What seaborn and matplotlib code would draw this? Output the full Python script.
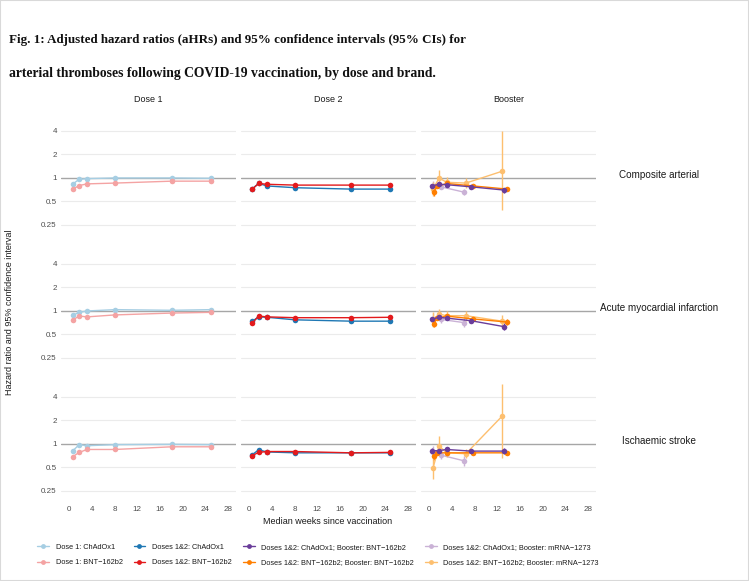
import numpy as np
import pandas as pd
import matplotlib.pyplot as plt
import seaborn as sns
from matplotlib.lines import Line2D
from matplotlib.patches import Rectangle

sns.set_theme(style="white")
plt.rcParams["font.family"] = ["Liberation Sans", "DejaVu Sans"]

outcomes = ["Composite arterial", "Acute myocardial infarction", "Ischaemic stroke"]
doses = ["Dose 1", "Dose 2", "Booster"]

series_names = [
    "Dose 1: ChAdOx1", "Dose 1: BNT\u2212162b2",
    "Doses 1&2: ChAdOx1", "Doses 1&2: BNT\u2212162b2",
    "Doses 1&2: ChAdOx1; Booster: BNT\u2212162b2", "Doses 1&2: BNT\u2212162b2; Booster: BNT\u2212162b2",
    "Doses 1&2: ChAdOx1; Booster: mRNA\u22121273", "Doses 1&2: BNT\u2212162b2; Booster: mRNA\u22121273",
]
series_dose = ["Dose 1", "Dose 1", "Dose 2", "Dose 2", "Booster", "Booster", "Booster", "Booster"]
colors = ["#a6cee3", "#f4a3a3", "#1f78b4", "#e31a1c", "#6a3d9a", "#ff7f00", "#cab2d6", "#fdbf6f"]

# median weeks since vaccination for each series
weeks = [
    [0.7, 1.8, 3.2, 8.1, 18.1, 25.0],
    [0.7, 1.8, 3.2, 8.1, 18.1, 25.0],
    [0.6, 1.7, 3.2, 8.1, 18.0, 24.9],
    [0.6, 1.7, 3.2, 8.1, 18.0, 24.9],
    [0.6, 1.7, 3.1, 7.4, 13.2],
    [0.8, 1.5, 3.1, 7.8, 13.8],
    [0.7, 2.1, 6.1],
    [0.7, 1.8, 3.1, 6.5, 12.9],
]

# hazard ratios: outcome -> series
hr_composite = [
    [0.84, 0.96, 0.98, 1.00, 1.00, 0.99],
    [0.72, 0.80, 0.84, 0.86, 0.91, 0.91],
    [0.73, 0.85, 0.79, 0.75, 0.72, 0.72],
    [0.72, 0.85, 0.83, 0.81, 0.81, 0.81],
    [0.79, 0.83, 0.82, 0.77, 0.70],
    [0.67, 0.78, 0.85, 0.79, 0.72],
    [0.80, 0.77, 0.66],
    [0.72, 1.00, 0.88, 0.86, 1.22],
]
hr_ami = [
    [0.88, 0.96, 1.00, 1.04, 1.02, 1.04],
    [0.77, 0.86, 0.84, 0.89, 0.94, 0.96],
    [0.74, 0.84, 0.83, 0.77, 0.74, 0.74],
    [0.70, 0.86, 0.84, 0.82, 0.82, 0.83],
    [0.78, 0.83, 0.81, 0.75, 0.63],
    [0.69, 0.81, 0.86, 0.79, 0.72],
    [0.80, 0.78, 0.71],
    [0.77, 0.91, 0.87, 0.87, 0.74],
]
hr_stroke = [
    [0.82, 0.98, 0.95, 0.98, 0.99, 0.98],
    [0.69, 0.78, 0.85, 0.85, 0.92, 0.92],
    [0.73, 0.84, 0.79, 0.77, 0.77, 0.77],
    [0.71, 0.78, 0.80, 0.80, 0.77, 0.78],
    [0.82, 0.82, 0.85, 0.81, 0.81],
    [0.70, 0.77, 0.77, 0.77, 0.77],
    [0.80, 0.72, 0.61],
    [0.49, 0.94, 0.77, 0.75, 2.28],
]

# 95% CIs for the booster series (dose 1/2 intervals are hidden by the points)
lo_composite = [[0.75, 0.80, 0.79, 0.74, 0.65], [0.58, 0.74, 0.81, 0.76, 0.68],
                [0.70, 0.72, 0.60], [0.58, 0.80, 0.75, 0.74, 0.39]]
hi_composite = [[0.84, 0.87, 0.85, 0.80, 0.75], [0.77, 0.83, 0.89, 0.83, 0.77],
                [0.91, 0.83, 0.73], [0.90, 1.25, 1.03, 1.00, 3.95]]
lo_ami = [[0.73, 0.79, 0.77, 0.71, 0.57], [0.62, 0.77, 0.82, 0.75, 0.67],
          [0.68, 0.71, 0.62], [0.62, 0.78, 0.76, 0.75, 0.62]]
hi_ami = [[0.84, 0.88, 0.85, 0.79, 0.70], [0.76, 0.86, 0.90, 0.83, 0.78],
          [0.94, 0.86, 0.81], [0.96, 1.07, 1.00, 1.01, 0.88]]
lo_stroke = [[0.76, 0.77, 0.80, 0.76, 0.75], [0.62, 0.72, 0.73, 0.73, 0.72],
             [0.68, 0.65, 0.52], [0.36, 0.75, 0.68, 0.66, 0.67]]
hi_stroke = [[0.88, 0.88, 0.91, 0.87, 0.88], [0.79, 0.82, 0.81, 0.81, 0.82],
             [0.94, 0.80, 0.71], [0.70, 1.25, 0.90, 0.86, 5.8]]

hr_all = [hr_composite, hr_ami, hr_stroke]
lo_all = [lo_composite, lo_ami, lo_stroke]
hi_all = [hi_composite, hi_ami, hi_stroke]

rows = []
for o, outcome in enumerate(outcomes):
    b = 0
    for s, name in enumerate(series_names):
        for k, w in enumerate(weeks[s]):
            hr = hr_all[o][s][k]
            if series_dose[s] == "Booster":
                lo, hi = lo_all[o][b][k], hi_all[o][b][k]
            else:
                lo, hi = hr, hr
            rows.append(dict(outcome=outcome, dose=series_dose[s], series=name,
                             weeks=w, hr=hr, lo=lo, hi=hi))
        if series_dose[s] == "Booster":
            b += 1
df = pd.DataFrame(rows)
palette = dict(zip(series_names, colors))

W, H = 749, 581
fig = plt.figure(figsize=(W / 100, H / 100), dpi=100)

col_left = [61, 241, 421]
panel_w = 175
row_top = [114.5, 247.5, 380.5]
panel_h = 121.6
tick_vals = [0.25, 0.5, 1, 2, 4]
tick_labels = ["0.25", "0.5", "1", "2", "4"]

draw_order = [6, 7, 5, 4, 0, 1, 2, 3]

for r, outcome in enumerate(outcomes):
    for c, dose in enumerate(doses):
        ax = fig.add_axes([col_left[c] / W, 1 - (row_top[r] + panel_h) / H,
                           panel_w / W, panel_h / H])
        ax.set_yscale("log")
        ax.set_ylim(0.18, 6.5)
        ax.set_xlim(-1.4, 29.4)
        for v in [0.25, 0.5, 2, 4]:
            ax.axhline(v, color="#ebebeb", lw=0.8, zorder=0)
        ax.axhline(1, color="#a6a6a6", lw=1.0, zorder=1)
        sub = df[(df["outcome"] == outcome) & (df["dose"] == dose)]
        for s in draw_order:
            name = series_names[s]
            d = sub[sub["series"] == name]
            if d.empty:
                continue
            ax.vlines(d["weeks"], d["lo"], d["hi"], color=palette[name], lw=1.0, zorder=2)
            sns.lineplot(data=d, x="weeks", y="hr", color=palette[name], marker="o",
                         markersize=4, markeredgewidth=0, lw=1.0, ax=ax, zorder=3,
                         estimator=None, sort=True)
        ax.set_yticks(tick_vals)
        ax.minorticks_off()
        ax.set_xticks(range(0, 29, 4))
        if c == 0:
            ax.set_yticklabels(tick_labels)
        else:
            ax.set_yticklabels([])
        if r < 2:
            ax.set_xticklabels([])
        ax.tick_params(axis="both", length=0, labelsize=5.8, labelcolor="#4d4d4d", pad=3)
        ax.set_xlabel("")
        ax.set_ylabel("")
        sns.despine(ax=ax, left=True, bottom=True)
        ax.grid(False)
        if r == 0:
            ax.set_title(dose, fontsize=6.5, color="#1a1a1a", pad=9)
        if c == 2:
            ax.text(1.36, 0.5, outcome, transform=ax.transAxes, ha="center", va="center",
                    fontsize=7.1, color="#1a1a1a")

fig.text(10 / W, 1 - 312 / H, "Hazard ratio and 95% confidence interval", rotation=90,
         ha="center", va="center", fontsize=6.5, color="#1a1a1a")
fig.text(328 / W, 1 - 521 / H, "Median weeks since vaccination", ha="center", va="center",
         fontsize=6.5, color="#1a1a1a")

handles = [Line2D([], [], color=palette[n], marker="o", markersize=3.5, markeredgewidth=0, lw=1.0)
           for n in series_names]
fig.legend(handles, series_names, loc="center", bbox_to_anchor=(318 / W, 1 - 555 / H),
           ncol=4, frameon=False, fontsize=5.3, labelcolor="#1a1a1a", handlelength=1.6,
           handletextpad=0.9, columnspacing=1.5, labelspacing=1.1)

# title: fit each line to the width it has in the figure
title_lines = [
    ("Fig. 1: Adjusted hazard ratios (aHRs) and 95% confidence intervals (95% CIs) for", 40, 458),
    ("arterial thromboses following COVID-19 vaccination, by dose and brand.", 73, 430),
]
renderer = fig.canvas.get_renderer()
for txt, y, target in title_lines:
    t = fig.text(9 / W, 1 - y / H, txt, fontsize=14, fontweight="bold",
                 family=["Liberation Serif", "DejaVu Serif"], ha="left", va="center",
                 color="#111111")
    width = t.get_window_extent(renderer).width
    t.set_fontsize(14 * target / width)

fig.patches.append(Rectangle((0, 0), 1, 1, transform=fig.transFigure, fill=False,
                             edgecolor="#d9d9d9", lw=1.5))

fig.savefig("out.png", dpi=100)
